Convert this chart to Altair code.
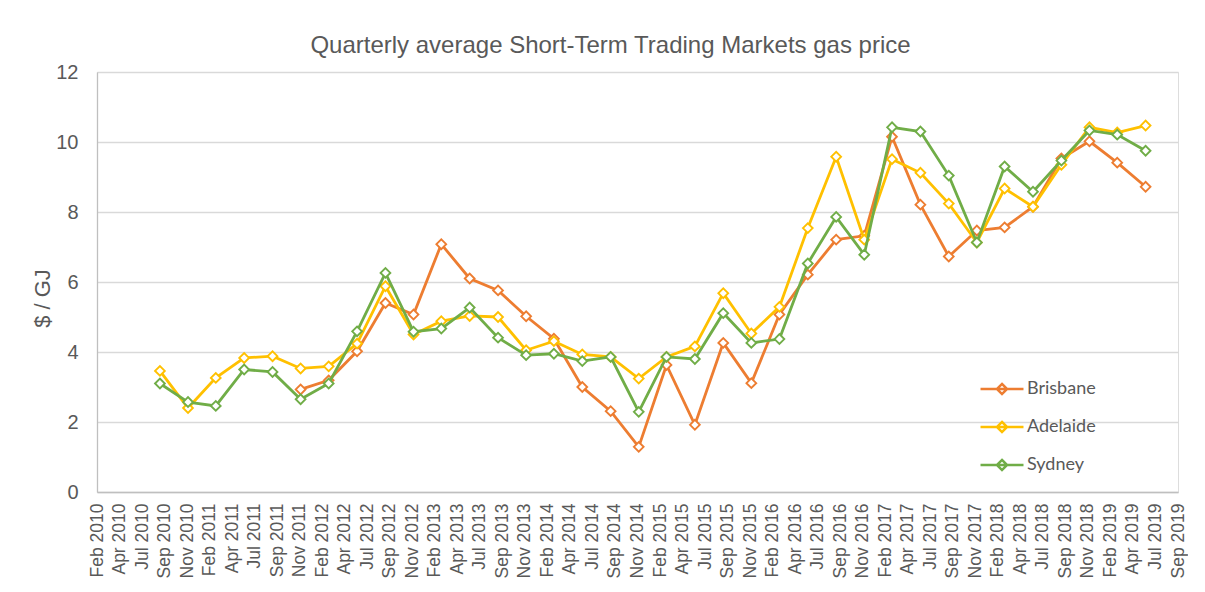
import json
from datetime import datetime, timezone, timedelta

import altair as alt
import pandas as pd

# ---------------- data ----------------
quarters = [
    "2010-09-01", "2010-12-01",
    "2011-03-01", "2011-06-01", "2011-09-01", "2011-12-01",
    "2012-03-01", "2012-06-01", "2012-09-01", "2012-12-01",
    "2013-03-01", "2013-06-01", "2013-09-01", "2013-12-01",
    "2014-03-01", "2014-06-01", "2014-09-01", "2014-12-01",
    "2015-03-01", "2015-06-01", "2015-09-01", "2015-12-01",
    "2016-03-01", "2016-06-01", "2016-09-01", "2016-12-01",
    "2017-03-01", "2017-06-01", "2017-09-01", "2017-12-01",
    "2018-03-01", "2018-06-01", "2018-09-01", "2018-12-01",
    "2019-03-01", "2019-06-01",
]

brisbane = [None, None, None, None, None,
            2.93, 3.19, 4.02, 5.40, 5.07, 7.08, 6.10, 5.76, 5.02, 4.38,
            3.00, 2.31, 1.29, 3.63, 1.92, 4.26, 3.11, 5.07, 6.21, 7.21,
            7.32, 10.15, 8.21, 6.73, 7.47, 7.56, 8.15, 9.53, 10.02, 9.41, 8.72]

adelaide = [3.46, 2.40, 3.26, 3.83, 3.88, 3.53, 3.59, 4.24, 5.88, 4.50,
            4.88, 5.03, 5.00, 4.05, 4.31, 3.93, 3.86, 3.24, 3.86, 4.16,
            5.68, 4.53, 5.29, 7.54, 9.58, 7.21, 9.51, 9.12, 8.24, 7.13,
            8.67, 8.15, 9.35, 10.42, 10.27, 10.47]

sydney = [3.10, 2.57, 2.46, 3.50, 3.43, 2.65, 3.10, 4.59, 6.26, 4.58,
          4.67, 5.27, 4.41, 3.91, 3.95, 3.74, 3.86, 2.29, 3.86, 3.80,
          5.11, 4.26, 4.37, 6.53, 7.86, 6.78, 10.42, 10.30, 9.04, 7.13,
          9.30, 8.58, 9.47, 10.33, 10.21, 9.75]

series_names = ["Brisbane", "Adelaide", "Sydney"]
series_colors = ["#ED7D31", "#FFC000", "#70AD47"]

tick_labels = []
for y in range(2010, 2020):
    for m in ["Feb", "Apr", "Jul", "Sep", "Nov"]:
        tick_labels.append(f"{m} {y}")
tick_labels = tick_labels[:49]  # Feb 2010 ... Sep 2019

y_ticks = [0, 2, 4, 6, 8, 10, 12]

# ---------------- build table ----------------
rows = []
for name, vals in zip(series_names, [brisbane, adelaide, sydney]):
    for q, v in zip(quarters, vals):
        if v is not None:
            rows.append({"date": q, "city": name, "price": v})
df = pd.DataFrame(rows)

# date axis: Excel-style major unit of 73 days
DAY = 86400000
axis_start = datetime(2010, 2, 9, tzinfo=timezone.utc)
start_ms = int(axis_start.timestamp() * 1000)
step_ms = 73 * DAY
tick_values = [start_ms + i * step_ms for i in range(len(tick_labels))]
end_ms = tick_values[-1]

label_expr = (f"{json.dumps(tick_labels)}"
              f"[round((datum.value - {start_ms}) / {step_ms})]")

GREY = "#595959"
FONT = "Liberation Sans"

x_enc = alt.X(
    "date:T",
    scale=alt.Scale(type="utc", domain=[start_ms, end_ms], nice=False),
    axis=alt.Axis(
        values=tick_values,
        labelExpr=label_expr,
        labelAngle=-90,
        labelFontSize=17.5,
        labelColor=GREY,
        labelFont=FONT,
        labelPadding=11,
        labelOverlap=False,
        labelFlush=False,
        ticks=False,
        grid=False,
        domainColor="#BFBFBF",
        domainWidth=1.3,
        title=None,
    ),
)

y_enc = alt.Y(
    "price:Q",
    scale=alt.Scale(domain=[0, 12], nice=False),
    axis=alt.Axis(
        values=y_ticks,
        labelFontSize=20,
        labelColor=GREY,
        labelFont=FONT,
        labelPadding=19,
        ticks=False,
        grid=True,
        gridColor="#D9D9D9",
        gridWidth=1.3,
        domainColor="#BFBFBF",
        domainWidth=1.3,
        title="$ / GJ",
        titleFont=FONT,
        titleFontSize=22,
        titleFontWeight="normal",
        titleColor=GREY,
        titleAngle=-90,
        titleBaseline="middle",
        titleAlign="center",
        titleX=-55,
        titleY=226,
    ),
)

legend_path = "M-1.4,0H1.4M0,-0.33L0.33,0L0,0.33L-0.33,0Z"

color_enc = alt.Color(
    "city:N",
    scale=alt.Scale(domain=series_names, range=series_colors),
    legend=alt.Legend(
        title=None,
        orient="none",
        legendX=888,
        legendY=300,
        symbolType=legend_path,
        symbolSize=943,
        symbolStrokeWidth=2.5,
        symbolFillColor="white",
        labelFont="Lato",
        labelFontSize=18,
        labelColor=GREY,
        labelOffset=8,
        rowPadding=10,
        padding=0,
    ),
)

layers = []
for name in series_names:
    sub = alt.Chart(df).transform_filter(alt.datum.city == name)
    line = sub.mark_line(strokeWidth=2.8).encode(x=x_enc, y=y_enc, color=color_enc)
    pts = sub.mark_point(shape="diamond", filled=False, fill="white",
                         size=95, strokeWidth=1.9, opacity=1).encode(
        x=x_enc, y=y_enc, color=color_enc)
    layers += [line, pts]

chart = alt.layer(*layers).properties(
    width=1081,
    height=420,
    autosize=alt.AutoSizeParams(type="none"),
    padding={"left": 89, "top": 64, "right": 10, "bottom": 90},
    title=alt.TitleParams(
        text="Quarterly average Short-Term Trading Markets gas price",
        font=FONT,
        fontSize=24,
        fontWeight="normal",
        color=GREY,
        anchor="middle",
        frame="group",
        dx=-27,
        dy=23,
        offset=8,
        baseline="alphabetic",
    ),
).configure_view(stroke=None).configure(background="white")

chart.save("out.html", embed_options={"renderer": "svg", "actions": False})
